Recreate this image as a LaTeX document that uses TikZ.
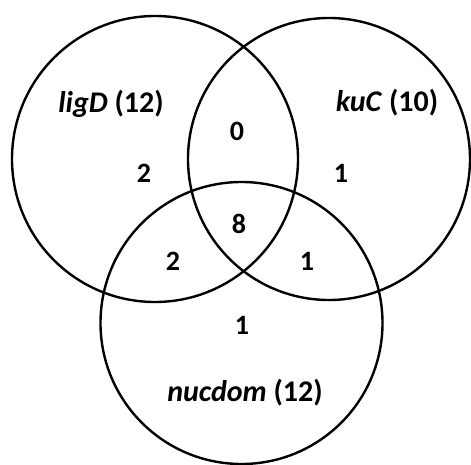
\documentclass[tikz,border=0pt]{standalone}
\usepackage{fontspec}
\setmainfont{Carlito}
\begin{document}
\begin{tikzpicture}[x=1pt,y=-1pt,
  venn/.style={draw=black,line width=2.4pt},
  lab/.style={font=\fontsize{30}{34}\selectfont\bfseries,inner sep=0pt},
  num/.style={font=\fontsize{28}{32}\selectfont\bfseries,inner sep=0pt}]
\useasboundingbox (0,0) rectangle (471,465);
\draw[venn] (155,159) circle (143);
\draw[venn] (329,159) circle (141);
\draw[venn] (241.5,323) circle (141);
\node[lab] (lA) at (111,104) {\textit{ligD} (12)};
\node[lab] (lB) at (387,103) {\textit{kuC} (10)};
\node[lab] (lC) at (245,393) {\textit{nucdom} (12)};
\node[num] (nA) at (144,173) {2};
\node[num] (nB) at (341,173) {1};
\node[num] (nAB) at (237,131) {0};
\node[num] (nABC) at (239,224) {8};
\node[num] (nAC) at (173,261) {2};
\node[num] (nBC) at (307,261) {1};
\node[num] (nC) at (242,325) {1};
\end{tikzpicture}
\end{document}
